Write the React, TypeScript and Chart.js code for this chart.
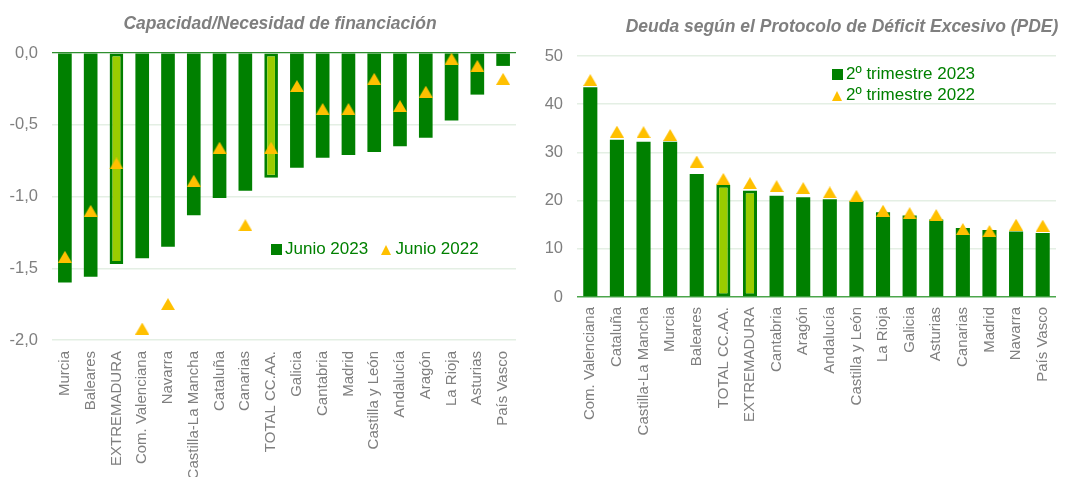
import { useEffect, useRef } from "react";
import { Chart, registerables } from "chart.js";

Chart.register(...registerables);

// ---------- Data: left chart (Capacidad/Necesidad de financiación) ----------
const leftCategories = [
  "Murcia", "Baleares", "EXTREMADURA", "Com. Valenciana", "Navarra", "Castilla-La Mancha",
  "Cataluña", "Canarias", "TOTAL CC.AA.", "Galicia", "Cantabria", "Madrid",
  "Castilla y León", "Andalucía", "Aragón", "La Rioja", "Asturias", "País Vasco",
];
const leftJunio2023 = [
  -1.60, -1.56, -1.47, -1.43, -1.35, -1.13, -1.01, -0.96, -0.87, -0.80, -0.73, -0.71,
  -0.69, -0.65, -0.59, -0.47, -0.29, -0.09,
];
const leftJunio2022 = [
  -1.42, -1.10, -0.77, -1.92, -1.75, -0.89, -0.66, -1.20, -0.66, -0.23, -0.39, -0.39,
  -0.18, -0.37, -0.27, -0.04, -0.09, -0.18,
];
const leftTickValues = [-2.0, -1.5, -1.0, -0.5, 0.0];
const leftLegendLabels = ["Junio 2023", "Junio 2022"];
const leftTitle = "Capacidad/Necesidad de financiación";

// ---------- Data: right chart (Deuda PDE) ----------
const rightCategories = [
  "Com. Valenciana", "Cataluña", "Castilla-La Mancha", "Murcia", "Baleares", "TOTAL CC.AA.",
  "EXTREMADURA", "Cantabria", "Aragón", "Andalucía", "Castilla y León", "La Rioja",
  "Galicia", "Asturias", "Canarias", "Madrid", "Navarra", "País Vasco",
];
const rightT2023 = [
  43.5, 32.6, 32.2, 32.2, 25.5, 23.3, 22.1, 21.0, 20.7, 20.3, 19.9, 17.6,
  16.9, 16.1, 14.3, 13.9, 13.6, 13.3,
];
const rightT2022 = [
  45.0, 34.3, 34.2, 33.6, 28.1, 24.5, 23.6, 23.0, 22.6, 21.7, 21.0, 17.9,
  17.4, 17.0, 14.1, 13.7, 15.0, 14.8,
];
const rightTickValues = [0, 10, 20, 30, 40, 50];
const rightLegendLabels = ["2º trimestre 2023", "2º trimestre 2022"];
const rightTitle = "Deuda según el Protocolo de Déficit Excesivo (PDE)";

const highlighted = ["EXTREMADURA", "TOTAL CC.AA."];

const FONT = "'Liberation Sans', Arial, sans-serif";
const DARK_GREEN = "#008000";
const LIGHT_GREEN = "#99CC00";
const GOLD = "#FFC000";
const GREY = "#7f7f7f";
const GRID = "#e4efe4";

function makeTriangle(): HTMLCanvasElement {
  const c = document.createElement("canvas");
  c.width = 14;
  c.height = 12;
  const g = c.getContext("2d")!;
  g.fillStyle = GOLD;
  g.beginPath();
  g.moveTo(7, 0);
  g.lineTo(14, 12);
  g.lineTo(0, 12);
  g.closePath();
  g.fill();
  return c;
}

type Cfg = {
  categories: string[];
  bars: number[];
  points: number[];
  barLabel: string;
  pointLabel: string;
  min: number;
  max: number;
  ticks: number[];
  decimals: number;
  yWidth: number;
  xHeight: number;
  padTop: number;
  padRight: number;
  labelPad: number;
  zeroColor: string;
  zeroWidth: number;
};

function buildChart(canvas: HTMLCanvasElement, cfg: Cfg) {
  const tri = makeTriangle();
  const bg = cfg.categories.map((c) => (highlighted.includes(c) ? LIGHT_GREEN : DARK_GREEN));
  const bw = cfg.categories.map((c) => (highlighted.includes(c) ? 3 : 0));
  return new Chart(canvas, {
    type: "bar",
    data: {
      labels: cfg.categories,
      datasets: [
        {
          type: "line",
          label: cfg.pointLabel,
          data: cfg.points,
          showLine: false,
          pointStyle: tri as any,
          pointRadius: 7,
          pointBackgroundColor: GOLD,
          pointBorderWidth: 0,
          clip: false as any,
          order: 0,
        } as any,
        {
          type: "bar",
          label: cfg.barLabel,
          data: cfg.bars,
          backgroundColor: bg,
          borderColor: DARK_GREEN,
          borderWidth: bw,
          borderSkipped: false,
          barPercentage: 0.53,
          categoryPercentage: 1,
          order: 1,
        } as any,
      ],
    },
    options: {
      animation: false,
      responsive: false,
      maintainAspectRatio: false,
      events: [],
      layout: { padding: { top: cfg.padTop, right: cfg.padRight, left: 0, bottom: 0 } },
      plugins: {
        legend: { display: false },
        tooltip: { enabled: false },
        title: { display: false },
      },
      scales: {
        x: {
          grid: { display: false },
          border: { display: false },
          ticks: {
            autoSkip: false,
            minRotation: 90,
            maxRotation: 90,
            padding: cfg.labelPad,
            color: GREY,
            font: { family: FONT, size: 15 },
          },
          afterFit: (s: any) => {
            s.height = cfg.xHeight;
          },
        },
        y: {
          min: cfg.min,
          max: cfg.max,
          afterBuildTicks: (s: any) => {
            s.ticks = cfg.ticks.map((v) => ({ value: v }));
          },
          ticks: {
            padding: 14,
            color: GREY,
            font: { family: FONT, size: 16.5 },
            callback: (v: any) => Number(v).toFixed(cfg.decimals).replace(".", ","),
          },
          grid: {
            drawTicks: false,
            color: (ctx: any) => (ctx.tick && ctx.tick.value === 0 ? cfg.zeroColor : GRID),
            lineWidth: (ctx: any) => (ctx.tick && ctx.tick.value === 0 ? cfg.zeroWidth : 1.5),
          },
          border: { display: false },
          afterFit: (s: any) => {
            s.width = cfg.yWidth;
          },
        },
      },
    } as any,
  });
}

const textBase: React.CSSProperties = {
  position: "absolute",
  fontFamily: FONT,
  whiteSpace: "nowrap",
  lineHeight: "20px",
};

function Square({ left, top }: { left: number; top: number }) {
  return (
    <div
      style={{ position: "absolute", left, top, width: 11, height: 11, background: DARK_GREEN }}
    />
  );
}

function Triangle({ left, top }: { left: number; top: number }) {
  return (
    <div
      style={{
        position: "absolute",
        left,
        top,
        width: 0,
        height: 0,
        borderLeft: "5.5px solid transparent",
        borderRight: "5.5px solid transparent",
        borderBottom: `10px solid ${GOLD}`,
      }}
    />
  );
}

export default function App() {
  const leftRef = useRef<HTMLCanvasElement>(null);
  const rightRef = useRef<HTMLCanvasElement>(null);

  useEffect(() => {
    const l = buildChart(leftRef.current!, {
      categories: leftCategories,
      bars: leftJunio2023,
      points: leftJunio2022,
      barLabel: leftLegendLabels[0],
      pointLabel: leftLegendLabels[1],
      min: -2,
      max: 0,
      ticks: leftTickValues,
      decimals: 1,
      yWidth: 52,
      xHeight: 137,
      padTop: 53,
      padRight: 19,
      labelPad: 3,
      zeroColor: "#2f8f2f",
      zeroWidth: 1.2,
    });
    const r = buildChart(rightRef.current!, {
      categories: rightCategories,
      bars: rightT2023,
      points: rightT2022,
      barLabel: rightLegendLabels[0],
      pointLabel: rightLegendLabels[1],
      min: 0,
      max: 50,
      ticks: rightTickValues,
      decimals: 0,
      yWidth: 42,
      xHeight: 180,
      padTop: 56,
      padRight: 11,
      labelPad: 2,
      zeroColor: "#4ca64c",
      zeroWidth: 1.5,
    });
    return () => {
      l.destroy();
      r.destroy();
    };
  }, []);

  return (
    <div
      style={{
        position: "absolute",
        left: 0,
        top: 0,
        width: 1067,
        height: 477,
        overflow: "hidden",
        background: "#ffffff",
      }}
    >
      <canvas
        ref={leftRef}
        width={535}
        height={477}
        style={{ position: "absolute", left: 0, top: 0, width: 535, height: 477 }}
      />
      <canvas
        ref={rightRef}
        width={532}
        height={477}
        style={{ position: "absolute", left: 535, top: 0, width: 532, height: 477 }}
      />

      {/* Titles */}
      <div
        style={{
          ...textBase,
          left: 280 - 200,
          width: 400,
          textAlign: "center",
          top: 13,
          fontSize: 17.5,
          fontWeight: "bold",
          fontStyle: "italic",
          color: GREY,
        }}
      >
        {leftTitle}
      </div>
      <div
        style={{
          ...textBase,
          left: 842 - 250,
          width: 500,
          textAlign: "center",
          top: 15.5,
          fontSize: 17.5,
          fontWeight: "bold",
          fontStyle: "italic",
          color: GREY,
        }}
      >
        {rightTitle}
      </div>

      {/* Left legend */}
      <Square left={271} top={243.5} />
      <div style={{ ...textBase, left: 285, top: 239, fontSize: 17, color: DARK_GREEN }}>
        {leftLegendLabels[0]}
      </div>
      <Triangle left={381} top={245} />
      <div style={{ ...textBase, left: 395.5, top: 239, fontSize: 17, color: DARK_GREEN }}>
        {leftLegendLabels[1]}
      </div>

      {/* Right legend */}
      <Square left={832} top={68.5} />
      <div style={{ ...textBase, left: 846, top: 64, fontSize: 17, color: DARK_GREEN }}>
        {rightLegendLabels[0]}
      </div>
      <Triangle left={832} top={90.5} />
      <div style={{ ...textBase, left: 846, top: 85, fontSize: 17, color: DARK_GREEN }}>
        {rightLegendLabels[1]}
      </div>
    </div>
  );
}
